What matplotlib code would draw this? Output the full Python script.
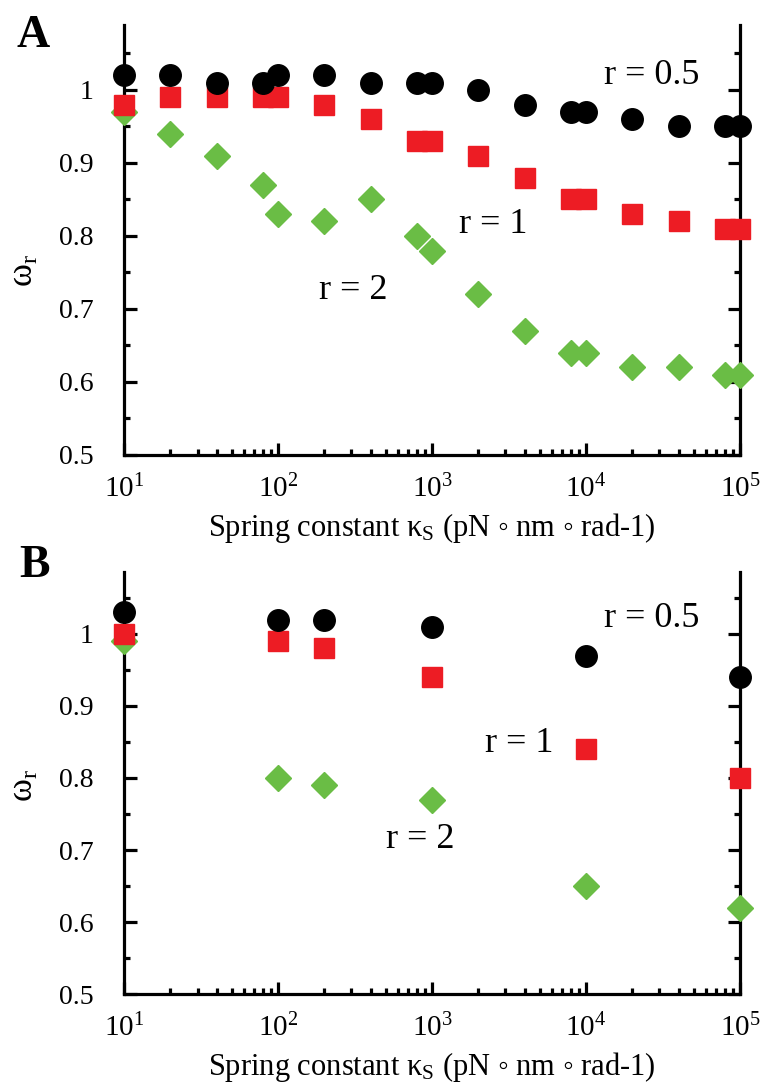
import matplotlib
matplotlib.use("Agg")
import matplotlib.pyplot as plt
from matplotlib.ticker import LogLocator, LogFormatterMathtext, MultipleLocator, NullFormatter

plt.rcParams['font.family'] = ['Liberation Serif', 'DejaVu Serif']
plt.rcParams['mathtext.fontset'] = 'custom'
plt.rcParams['mathtext.rm'] = 'Liberation Serif'
plt.rcParams['mathtext.it'] = 'Liberation Serif:italic'

# Panel A data
kA = [10, 20, 40, 80, 100, 200, 400, 800, 1000, 2000, 4000, 8000, 10000, 20000, 40000, 80000, 100000]
A_r05 = [1.02, 1.02, 1.01, 1.01, 1.02, 1.02, 1.01, 1.01, 1.01, 1.00, 0.98, 0.97, 0.97, 0.96, 0.95, 0.95, 0.95]
A_r1 = [0.98, 0.99, 0.99, 0.99, 0.99, 0.98, 0.96, 0.93, 0.93, 0.91, 0.88, 0.85, 0.85, 0.83, 0.82, 0.81, 0.81]
A_r2 = [0.97, 0.94, 0.91, 0.87, 0.83, 0.82, 0.85, 0.80, 0.78, 0.72, 0.67, 0.64, 0.64, 0.62, 0.62, 0.61, 0.61]

# Panel B data
kB = [10, 100, 200, 1000, 10000, 100000]
B_r05 = [1.03, 1.02, 1.02, 1.01, 0.97, 0.94]
B_r1 = [1.00, 0.99, 0.98, 0.94, 0.84, 0.80]
B_r2 = [0.99, 0.80, 0.79, 0.77, 0.65, 0.62]

series_labels = ["r = 0.5", "r = 1", "r = 2"]
y_ticks = [0.5, 0.6, 0.7, 0.8, 0.9, 1.0]
y_ticklabels = ['0.5', '0.6', '0.7', '0.8', '0.9', '1']

BLACK = "#000000"
RED = "#ED1C24"
GREEN = "#6ABD45"

fig = plt.figure(figsize=(7.68, 10.84), dpi=100)
axA = fig.add_axes([0.1615, 0.5803, 0.802, 0.3967])
axB = fig.add_axes([0.1615, 0.0830, 0.802, 0.3893])


def style(ax, ytop, ylab_y):
    ax.set_xscale('log')
    ax.set_xlim(10, 1e5)
    ax.set_ylim(0.5, ytop)
    ax.spines['top'].set_visible(False)
    for s in ['left', 'right', 'bottom']:
        ax.spines[s].set_linewidth(2.3)
    ax.xaxis.set_major_locator(LogLocator(base=10, numticks=10))
    ax.xaxis.set_minor_locator(LogLocator(base=10, subs=range(2, 10), numticks=50))
    ax.xaxis.set_major_formatter(LogFormatterMathtext())
    ax.xaxis.set_minor_formatter(NullFormatter())
    ax.yaxis.set_minor_locator(MultipleLocator(0.05))
    ax.set_yticks(y_ticks)
    ax.set_yticklabels(y_ticklabels)
    ax.tick_params(axis='both', which='major', direction='in', length=9, width=2.3,
                   labelsize=20)
    ax.tick_params(axis='x', which='major', labelsize=21)
    ax.tick_params(axis='both', which='minor', direction='in', length=4.5, width=2.3)
    ax.tick_params(axis='y', which='both', left=True, right=True)
    ax.tick_params(axis='x', which='both', bottom=True, top=False, pad=14)
    ax.tick_params(axis='y', which='major', pad=22)
    ax.set_ylabel('ω$_\\mathregular{r}$', fontsize=25)
    ax.yaxis.set_label_coords(-0.135, ylab_y)
    ax.set_xlabel('Spring constant κ$_\\mathregular{S}$ (pN ◦ nm ◦ rad-1)', fontsize=22, labelpad=6)


def draw(ax, k, y05, y1, y2):
    ax.plot(k, y05, 'o', color=BLACK, markersize=15.5, linestyle='none', clip_on=False, zorder=5)
    ax.plot(k, y1, 's', color=RED, markersize=14.5, linestyle='none', clip_on=False, zorder=4)
    ax.plot(k, y2, 'D', color=GREEN, markersize=13.3, linestyle='none', clip_on=False, zorder=3)


style(axA, 1.089, 0.43)
draw(axA, kA, A_r05, A_r1, A_r2)
axA.text(1.3e4, 1.02, series_labels[0], fontsize=26, ha='left', va='center')
axA.text(1.5e3, 0.815, series_labels[1], fontsize=26, ha='left', va='center')
axA.text(1.85e2, 0.725, series_labels[2], fontsize=26, ha='left', va='center')

style(axB, 1.086, 0.495)
draw(axB, kB, B_r05, B_r1, B_r2)
axB.text(1.3e4, 1.022, series_labels[0], fontsize=26, ha='left', va='center')
axB.text(2.2e3, 0.848, series_labels[1], fontsize=26, ha='left', va='center')
axB.text(5.0e2, 0.715, series_labels[2], fontsize=26, ha='left', va='center')

fig.text(0.022, 0.967, 'A', fontsize=33, fontweight='bold', ha='left', va='center')
fig.text(0.025, 0.4775, 'B', fontsize=33, fontweight='bold', ha='left', va='center')

fig.savefig('out.png', dpi=100)
